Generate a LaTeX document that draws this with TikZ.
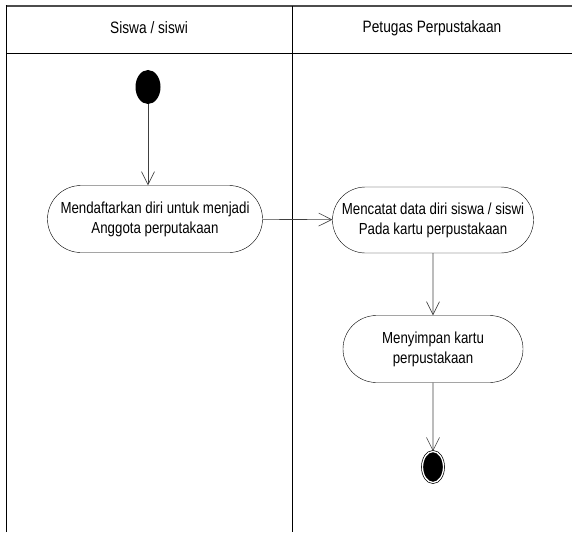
\documentclass[tikz,border=0pt]{standalone}
\usepackage{fontspec}
\setmainfont{Liberation Sans}[FakeStretch=0.83]
\usetikzlibrary{shapes.misc,shapes.geometric,arrows.meta}
\begin{document}
\begin{tikzpicture}[x=1pt,y=-1pt,
    act/.style={draw, rounded rectangle, align=center, inner sep=0pt,
                font=\fontsize{16}{20}\selectfont},
    lane/.style={font=\fontsize{16.5}{19}\selectfont},
    flow/.style={draw=black!75, line width=0.6pt, -{Straight Barb[length=13pt,width=13pt]}}]
  \useasboundingbox (0,0) rectangle (572,532);
  % swimlanes
  \draw [line width=1.6pt, black!70] (5.5,6) -- (572,6);
  \draw [line width=1.1pt] (6.5,532) -- (6.5,5)
        (6,53.5) -- (572,53.5)
        (292.5,6) -- (292.5,532);
  \draw (149, 28) node [lane] (L1) {Siswa / siswi}
        (432, 28) node [lane] (L2) {Petugas Perpustakaan};
  \draw (148, 87) node [ellipse, fill, minimum width=25pt, minimum height=34pt, inner sep=0pt] (Start) {}
        (155,219) node [act, minimum width=215pt, minimum height=67pt] (Daftar) {Mendaftarkan diri untuk menjadi\\ Anggota perputakaan}
        (433,220) node [act, minimum width=201pt, minimum height=66pt] (Catat) {Mencatat data diri siswa / siswi\\ Pada kartu perpustakaan}
        (433,349) node [act, minimum width=180pt, minimum height=67pt] (Simpan) {Menyimpan kartu\\ perpustakaan}
        (433,467) node [ellipse, draw, fill, double=white, double distance=1.3pt, line width=0.7pt,
                        minimum width=21pt, minimum height=31pt, inner sep=0pt] (End) {};
  \path (Start) edge [flow] (Daftar.north -| Start)
        (Daftar) edge [flow] (Catat)
        (Catat) edge [flow] (Simpan)
        (Simpan) edge [flow] (End);
\end{tikzpicture}
\end{document}
